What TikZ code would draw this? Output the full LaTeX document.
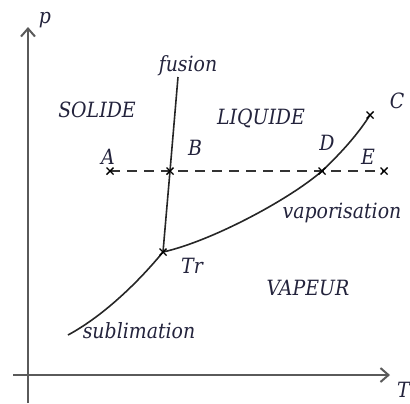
\documentclass[tikz,border=0pt]{standalone}
\usepackage{fontspec}
\setmainfont{DejaVu Serif Condensed}
\usetikzlibrary{arrows.meta}
\definecolor{txt}{RGB}{35,35,60}
\definecolor{axisc}{RGB}{90,90,90}
\begin{document}
\begin{tikzpicture}[x=0.5pt,y=-0.5pt,
  lab/.style={inner sep=0pt,text=txt,font=\fontsize{10.5}{13}\selectfont\itshape},
  axisline/.style={draw=axisc,line width=1pt,-{Straight Barb[length=4pt,width=7pt]}},
  curve/.style={draw=black!85,line width=0.8pt},
  dash line/.style={draw=black!80,line width=0.8pt,dash pattern=on 5pt off 3.5pt},
  xmark/.style={draw=black,line width=0.7pt}]
\useasboundingbox (0,0) rectangle (410,403);
% axes
\coordinate (ybot) at (28,403);
\coordinate (ytop) at (28,27);
\coordinate (xleft) at (13,375);
\coordinate (xright) at (390,375);
\draw[axisline] (ybot) -- (ytop);
\draw[axisline] (xleft) -- (xright);
\node[lab] (p) at (45,20) {p};
\node[lab,anchor=east] (T) at (410,390) {T};
% points
\coordinate (A) at (110,171);
\coordinate (B) at (170,171);
\coordinate (D) at (322,171);
\coordinate (E) at (384,171);
\coordinate (C) at (370,115);
\coordinate (Tr) at (163,252);
\coordinate (F) at (178,77);
\coordinate (S) at (68,335);
% curves
\draw[dash line] (A) -- (E);
\draw[curve] (F) -- (B) -- (Tr);
\draw[curve] (Tr) .. controls (212,241) and (290,199) .. (D) .. controls (342,152) and (358,134) .. (C);
\draw[curve] (S) .. controls (105,315) and (140,280) .. (Tr);
% crosses
\foreach \pt in {A,B,D,E,C,Tr}{
  \draw[xmark] ([shift={(-3.5,-3.5)}]\pt) -- ([shift={(3.5,3.5)}]\pt);
  \draw[xmark] ([shift={(-3.5,3.5)}]\pt) -- ([shift={(3.5,-3.5)}]\pt);
}
% labels
\node[lab] (fusion) at (188,66) {fusion};
\node[lab] (solide) at (97,110) {SOLIDE};
\node[lab] (liquide) at (261,118) {LIQUIDE};
\node[lab] (lA) at (108,157) {A};
\node[lab] (lB) at (195,148) {B};
\node[lab] (lC) at (397,101) {C};
\node[lab] (lD) at (327,143) {D};
\node[lab] (lE) at (368,157) {E};
\node[lab] (vapo) at (342,213) {vaporisation};
\node[lab] (vapeur) at (308,288) {VAPEUR};
\node[lab] (ltr) at (192,266) {Tr};
\node[lab] (subl) at (139,331) {sublimation};
\end{tikzpicture}
\end{document}
